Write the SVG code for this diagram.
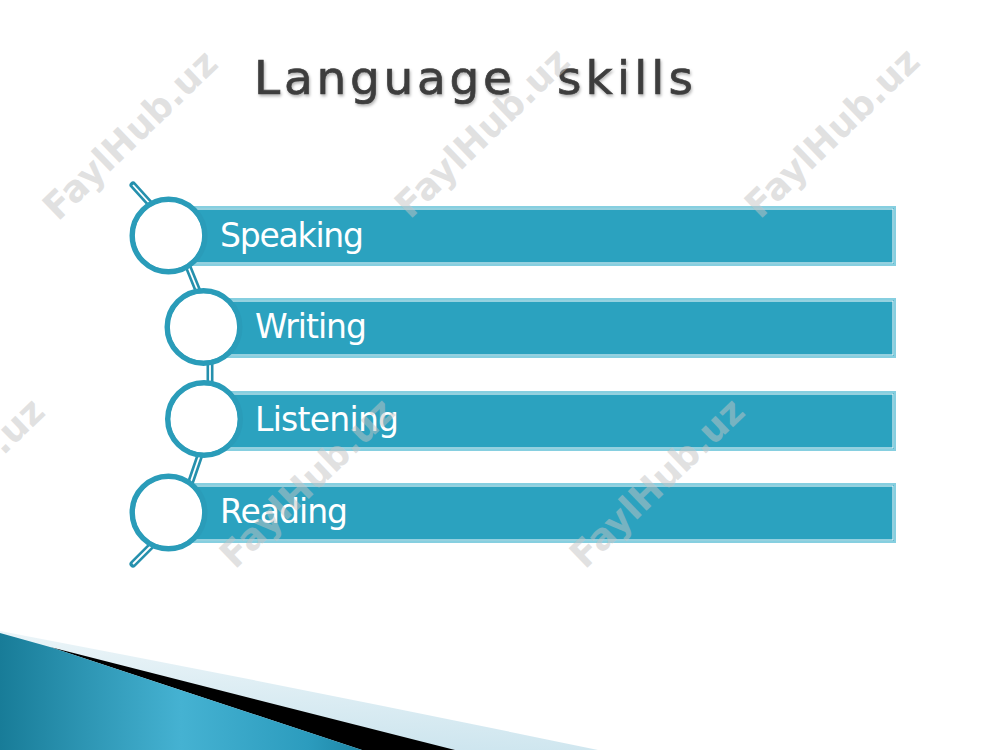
<svg xmlns="http://www.w3.org/2000/svg" width="1000" height="750" viewBox="0 0 1000 750">
<style>
.bar{fill:#2ba2bf;stroke:#86cfe0;stroke-width:2}
.barin{fill:none;stroke:#ffffff;stroke-width:1}
.ring{fill:#ffffff;stroke:#2a9cb9;stroke-width:5}
.ringin{fill:none;stroke:#2a9cb9;stroke-width:1.2}
.lbl{font-family:"DejaVu Sans","Liberation Sans",sans-serif;font-size:33px;fill:#ffffff}
.tube{stroke:#2590ad;stroke-width:7;stroke-linecap:round;fill:none}
.tubein{stroke:#ffffff;stroke-width:1.8;fill:none}
.wm{font-family:"DejaVu Sans","Liberation Sans",sans-serif;font-weight:bold;font-size:37px;fill:#c4c4c4;fill-opacity:0.5}
.title{font-family:"DejaVu Sans","Liberation Sans",sans-serif;font-size:47px;fill:#3d3d3d;stroke:#3d3d3d;stroke-width:0.7}
</style>
<defs>
<filter id="sh" x="-10%" y="-30%" width="120%" height="160%">
<feDropShadow dx="1" dy="2" stdDeviation="1.5" flood-color="#000000" flood-opacity="0.3"/>
</filter>
<linearGradient id="blue" x1="0" y1="0" x2="1" y2="0">
<stop offset="0" stop-color="#187c98"/>
<stop offset="0.5" stop-color="#45b2d2"/>
<stop offset="0.85" stop-color="#2c9cbe"/>
<stop offset="1" stop-color="#1d86a6"/>
</linearGradient>
<linearGradient id="pale" x1="0" y1="1" x2="0.3" y2="0">
<stop offset="0" stop-color="#c5e1ec"/>
<stop offset="1" stop-color="#eef6f9"/>
</linearGradient>
</defs>
<rect width="1000" height="750" fill="#ffffff"/>

<g id="swoosh">
<path d="M0,631 Q300,688 598,750 L0,750 Z" fill="url(#pale)"/>
<path d="M50,647 L455,750 L362,750 Z" fill="#000000"/>
<path d="M0,633 L50,647 L362,750 L0,750 Z" fill="url(#blue)"/>
</g>

<g id="title">
<text class="title" y="94" filter="url(#sh)"><tspan x="254" textLength="258" lengthAdjust="spacing">Language</tspan> <tspan x="557" textLength="136" lengthAdjust="spacing">skills</tspan></text>
</g>

<g id="connectors">
<line class="tube" x1="133" y1="185" x2="152" y2="206"/>
<line class="tubein" x1="133" y1="185" x2="152" y2="206"/>
<line class="tube" x1="187" y1="264" x2="200" y2="296"/>
<line class="tubein" x1="187" y1="264" x2="200" y2="296"/>
<line class="tube" x1="210" y1="358" x2="210" y2="388"/>
<line class="tubein" x1="210" y1="358" x2="210" y2="388"/>
<line class="tube" x1="201" y1="452" x2="190" y2="484"/>
<line class="tubein" x1="201" y1="452" x2="190" y2="484"/>
<line class="tube" x1="154" y1="543" x2="133" y2="564"/>
<line class="tubein" x1="154" y1="543" x2="133" y2="564"/>
</g>

<g id="speaking">
<rect class="bar" x="168" y="207" width="727" height="58"/>
<rect class="barin" x="170" y="209" width="723" height="54"/>
<circle class="ring" cx="168.5" cy="235.5" r="36.5"/>
<circle class="ringin" cx="168.5" cy="235.5" r="34.2"/>
<text class="lbl" x="220" y="247" textLength="144" lengthAdjust="spacing">Speaking</text>
</g>

<g id="writing">
<rect class="bar" x="203" y="299" width="692" height="58"/>
<rect class="barin" x="205" y="301" width="688" height="54"/>
<circle class="ring" cx="203.5" cy="327" r="36.5"/>
<circle class="ringin" cx="203.5" cy="327" r="34.2"/>
<text class="lbl" x="255" y="338" textLength="112" lengthAdjust="spacing">Writing</text>
</g>

<g id="listening">
<rect class="bar" x="204" y="392" width="691" height="58"/>
<rect class="barin" x="206" y="394" width="687" height="54"/>
<circle class="ring" cx="204" cy="419" r="36.5"/>
<circle class="ringin" cx="204" cy="419" r="34.2"/>
<text class="lbl" x="255" y="431" textLength="144" lengthAdjust="spacing">Listening</text>
</g>

<g id="reading">
<rect class="bar" x="168" y="484" width="727" height="58"/>
<rect class="barin" x="170" y="486" width="723" height="54"/>
<circle class="ring" cx="168.5" cy="512.5" r="36.5"/>
<circle class="ringin" cx="168.5" cy="512.5" r="34.2"/>
<text class="lbl" x="220" y="523" textLength="128" lengthAdjust="spacing">Reading</text>
</g>

<g id="watermarks">
<text class="wm" transform="translate(58,222) rotate(-44)" textLength="225" lengthAdjust="spacingAndGlyphs">FaylHub.uz</text>
<text class="wm" transform="translate(410,220) rotate(-44)" textLength="225" lengthAdjust="spacingAndGlyphs">FaylHub.uz</text>
<text class="wm" transform="translate(760,220) rotate(-44)" textLength="225" lengthAdjust="spacingAndGlyphs">FaylHub.uz</text>
<text class="wm" transform="translate(-115,570) rotate(-44)" textLength="225" lengthAdjust="spacingAndGlyphs">FaylHub.uz</text>
<text class="wm" transform="translate(235,570) rotate(-44)" textLength="225" lengthAdjust="spacingAndGlyphs">FaylHub.uz</text>
<text class="wm" transform="translate(585,570) rotate(-44)" textLength="225" lengthAdjust="spacingAndGlyphs">FaylHub.uz</text>
</g>
</svg>
